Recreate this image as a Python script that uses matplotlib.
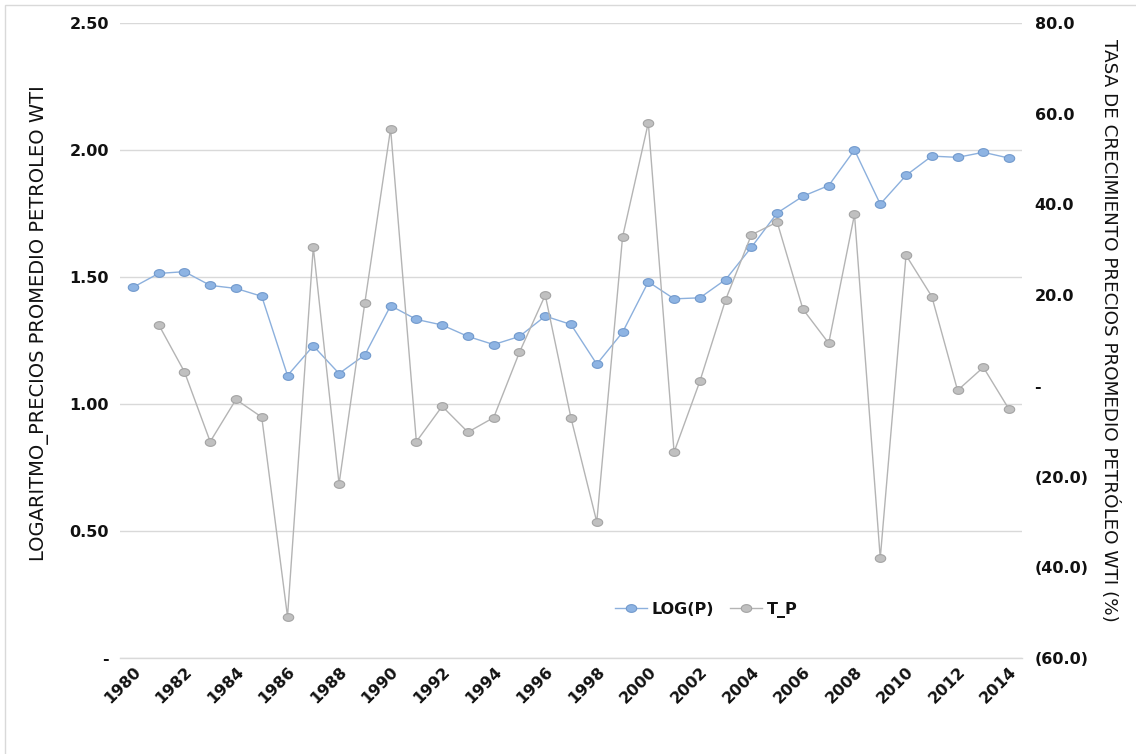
import numpy as np
import matplotlib
matplotlib.use("Agg")
import matplotlib.pyplot as plt
from matplotlib.path import Path
from matplotlib.patches import Rectangle
from matplotlib.ticker import FixedLocator, FixedFormatter

# --- data -------------------------------------------------------------
years = list(range(1980, 2015))
log_p = [1.459, 1.514, 1.521, 1.467, 1.455, 1.424, 1.112, 1.229, 1.120, 1.193,
         1.387, 1.333, 1.311, 1.266, 1.234, 1.266, 1.346, 1.313, 1.157, 1.282,
         1.481, 1.414, 1.418, 1.490, 1.617, 1.752, 1.818, 1.860, 2.000, 1.787,
         1.900, 1.976, 1.971, 1.991, 1.968]
t_p = [np.nan, 13.5, 3.1, -12.3, -3.0, -6.9, -50.9, 30.6, -21.6, 18.3,
       56.7, -12.3, -4.5, -10.2, -7.0, 7.4, 20.0, -7.1, -30.0, 32.8,
       58.0, -14.6, 1.0, 19.0, 33.3, 36.1, 16.9, 9.4, 37.8, -38.0,
       28.8, 19.7, -1.0, 4.1, -5.2]

left_ticks = [0.0, 0.5, 1.0, 1.5, 2.0, 2.5]
left_labels = ["-", "0.50", "1.00", "1.50", "2.00", "2.50"]
right_ticks = [-60, -40, -20, 0, 20, 40, 60, 80]
right_labels = ["(60.0)", "(40.0)", "(20.0)", "-", "20.0", "40.0", "60.0", "80.0"]
x_ticks = list(range(1980, 2015, 2))

left_title = "LOGARITMO_PRECIOS PROMEDIO PETROLEO WTI"
right_title = "TASA DE CRECIMIENTO PRECIOS PROMEDIO PETRÓLEO WTI (%)"

# --- styling ----------------------------------------------------------
W, H = 1136, 754
BLUE_LINE, BLUE_FACE, BLUE_EDGE = "#8CB0DD", "#8EB4E3", "#7199CC"
GRAY_LINE, GRAY_FACE, GRAY_EDGE = "#B4B4B4", "#C0C0C0", "#A3A3A3"
GRID = "#D9D9D9"
TXT = "#111111"

# slightly flattened round marker
t = np.linspace(0, 2 * np.pi, 41)
ellipse = Path(np.column_stack([np.cos(t), 0.74 * np.sin(t)]), closed=True)

fig = plt.figure(figsize=(W / 100, H / 100), dpi=100)
fig.patches.append(Rectangle((5 / W, -0.02), 1.1, 1 - 5 / H + 0.02,
                             transform=fig.transFigure, fill=False,
                             edgecolor="#D9D9D9", linewidth=1.0))

ax = fig.add_axes([120 / W, 1 - 658 / H, 902 / W, 635 / H])
ax2 = ax.twinx()

l1, = ax.plot(years, log_p, color=BLUE_LINE, lw=1.0, marker=ellipse,
              markersize=7.5, markerfacecolor=BLUE_FACE,
              markeredgecolor=BLUE_EDGE, markeredgewidth=0.8, label="LOG(P)",
              zorder=3)
l2, = ax2.plot(years, t_p, color=GRAY_LINE, lw=1.0, marker=ellipse,
               markersize=7.5, markerfacecolor=GRAY_FACE,
               markeredgecolor=GRAY_EDGE, markeredgewidth=0.8, label="T_P",
               zorder=3)

ax.set_xlim(1979.5, 2014.5)
ax.set_ylim(0, 2.5)
ax2.set_ylim(-60, 80)

ax.yaxis.set_major_locator(FixedLocator(left_ticks))
ax.yaxis.set_major_formatter(FixedFormatter(left_labels))
ax2.yaxis.set_major_locator(FixedLocator(right_ticks))
ax2.yaxis.set_major_formatter(FixedFormatter(right_labels))
ax.set_xticks(x_ticks)
ax.set_xticklabels([str(y) for y in x_ticks])

for a in (ax, ax2):
    for s in a.spines.values():
        s.set_visible(False)

ax.grid(axis="y", color=GRID, linewidth=1.0)
ax.axhline(0, color=GRID, linewidth=1.0, clip_on=False, zorder=0.5)
ax.set_axisbelow(True)

ax.tick_params(axis="y", length=0, pad=8, labelsize=11.5, labelcolor=TXT)
ax2.tick_params(axis="y", length=0, pad=9, labelsize=11.5, labelcolor=TXT)
ax.tick_params(axis="x", length=0, pad=4, labelsize=11.5, labelcolor=TXT)
for lab in ax.get_yticklabels() + ax2.get_yticklabels():
    lab.set_fontweight("bold")
for lab in ax.get_xticklabels():
    lab.set_fontweight("bold")
    lab.set_rotation(45)
    lab.set_ha("right")
    lab.set_va("top")
    lab.set_rotation_mode("anchor")

fig.text(40 / W, 1 - 323 / H, left_title, rotation=90, ha="center",
         va="center", fontsize=14, color=TXT)
fig.text(1110 / W, 1 - 330 / H, right_title, rotation=270, ha="center",
         va="center", fontsize=13.2, color=TXT)

leg = ax2.legend(handles=[l1, l2], loc="center", bbox_to_anchor=(0.65, 0.076),
                 ncol=2, frameon=False, handlelength=2.0, handletextpad=0.3,
                 columnspacing=1.0, prop={"weight": "bold", "size": 11.5})
for txt in leg.get_texts():
    txt.set_color(TXT)

fig.savefig("out.png", dpi=100, facecolor="white")
